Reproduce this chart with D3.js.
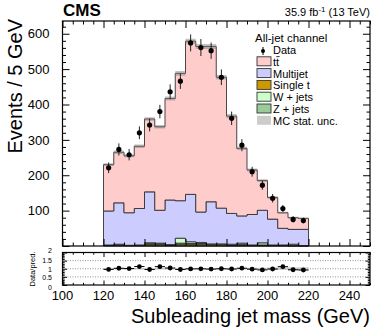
<!DOCTYPE html>
<html lang="en">
<head>
<meta charset="UTF-8">
<title>Subleading jet mass</title>
<script src="https://d3js.org/d3.v7.min.js"></script>
<style>
  body { margin: 0; background: #fff; }
  svg { display: block; font-family: "Liberation Sans", Arial, sans-serif; }
</style>
</head>
<body>
<div id="chart"></div>
<script>
// bin low edges (GeV), 5 GeV wide
const binLow = [120,125,130,135,140,145,150,155,160,165,170,175,180,185,190,195,200,205,210,215];
const binWidth = 5;

// observed events and their errors
const dataObs = [221,273,258,320,342,380,436,466,574,561,552,477,361,285,210,172,135,106,75,72];
const dataErr = [15,17,16,18,18,19,21,22,24,24,23,22,19,17,14,13,12,10,9,8];

// stacked predictions
const singleT  = [2,3,2,2,4,4,3,5,5,5,4,4,3,3,2,2,2,2,1,1];
const zJets    = [1,2,0,0,4,3,0,3,2,2,1,1,0,1,0,1,0,0,0,0];
const wJets    = [0,0,0,1,1,1,1,14,5,3,1,1,2,4,1,6,1,1,4,0];
const multijet = [96,117,92,103,144,93,126,106,134,86,119,101,87,77,86,92,73,47,42,46];
const ttbar    = [131,143,161,176,206,236,287,360,433,468,439,370,275,191,126,84,61,44,33,31];

// relative MC stat. uncertainty
const mcUnc = [0.05,0.05,0.05,0.05,0.04,0.04,0.04,0.04,0.035,0.035,0.035,0.04,0.045,0.05,0.055,0.06,0.07,0.08,0.09,0.1];

const xTicks = [100,120,140,160,180,200,220,240];
const yTicks = [100,200,300,400,500,600];
const ratioTicks = [0,0.5,1,1.5,2];

const W = 390, H = 329;
const L = 62.5, R = 370;
const mainTop = 21, mainBot = 246;
const ratTop = 252.5, ratBot = 285;

const svg = d3.select("#chart").append("svg")
  .attr("width", W).attr("height", H);

const x = d3.scaleLinear().domain([100, 250]).range([L, R]);
const y = d3.scaleLinear().domain([0, 636]).range([mainBot, mainTop]);
const yr = d3.scaleLinear().domain([0, 2]).range([ratBot, ratTop]);

// build stack
const keys = ["singleT", "zJets", "wJets", "multijet", "ttbar"];
const colors = { singleT: "#cc9900", zJets: "#99cc99", wJets: "#ccffcc", multijet: "#ccccff", ttbar: "#ffcccc" };
const rows = binLow.map((b, i) => ({
  lo: b, singleT: singleT[i], zJets: zJets[i], wJets: wJets[i], multijet: multijet[i], ttbar: ttbar[i]
}));
const stacked = d3.stack().keys(keys)(rows);
const total = rows.map(r => keys.reduce((s, k) => s + r[k], 0));

// step helper: repeat last bin at upper edge
function stepPts(vals0, vals1) {
  const pts = binLow.map((b, i) => ({ x: b, y0: vals0[i], y1: vals1[i] }));
  const n = binLow.length - 1;
  pts.push({ x: binLow[n] + binWidth, y0: vals0[n], y1: vals1[n] });
  return pts;
}

const area = d3.area().curve(d3.curveStepAfter)
  .x(d => x(d.x)).y0(d => y(d.y0)).y1(d => y(d.y1));

stacked.forEach(layer => {
  const pts = stepPts(layer.map(d => d[0]), layer.map(d => d[1]));
  svg.append("path")
    .attr("d", area(pts))
    .attr("fill", colors[layer.key])
    .attr("stroke", "#333")
    .attr("stroke-width", 0.9);
});

// MC stat band (thin, sits on the stack outline)
const band = stepPts(total.map((t, i) => t * (1 - mcUnc[i] * 0.35)), total.map((t, i) => t * (1 + mcUnc[i] * 0.35)));
svg.append("path").attr("d", area(band))
  .attr("fill", "#777").attr("opacity", 0.45);

// data points
const mid = binLow.map(b => b + binWidth / 2);
const pts = svg.append("g");
pts.selectAll("line").data(dataObs).join("line")
  .attr("x1", (d, i) => x(mid[i])).attr("x2", (d, i) => x(mid[i]))
  .attr("y1", (d, i) => y(d - dataErr[i])).attr("y2", (d, i) => y(d + dataErr[i]))
  .attr("stroke", "#222").attr("stroke-width", 1);
pts.selectAll("circle").data(dataObs).join("circle")
  .attr("cx", (d, i) => x(mid[i])).attr("cy", d => y(d))
  .attr("r", 2.6).attr("fill", "#000");

// frames
function frame(top, bot) {
  svg.append("rect").attr("x", L).attr("y", top)
    .attr("width", R - L).attr("height", bot - top)
    .attr("fill", "none").attr("stroke", "#000").attr("stroke-width", 1.2);
}
frame(mainTop, mainBot);
frame(ratTop, ratBot);

const minorX = d3.range(100, 251, 5).filter(v => v % 20 !== 0);

function xAxes(top, bot, big, small) {
  svg.append("g").attr("transform", `translate(0,${bot})`)
    .call(d3.axisBottom(x).tickValues(xTicks).tickSize(-big).tickFormat(""))
    .call(g => g.select(".domain").remove());
  svg.append("g").attr("transform", `translate(0,${bot})`)
    .call(d3.axisBottom(x).tickValues(minorX).tickSize(-small).tickFormat(""))
    .call(g => g.select(".domain").remove());
  svg.append("g").attr("transform", `translate(0,${top})`)
    .call(d3.axisTop(x).tickValues(xTicks).tickSize(-big).tickFormat(""))
    .call(g => g.select(".domain").remove());
  svg.append("g").attr("transform", `translate(0,${top})`)
    .call(d3.axisTop(x).tickValues(minorX).tickSize(-small).tickFormat(""))
    .call(g => g.select(".domain").remove());
}
xAxes(mainTop, mainBot, 7, 3.5);
xAxes(ratTop, ratBot, 4.5, 2.2);

function yAxes(scale, major, minor, big, small, fmt, fs, dyFn) {
  svg.append("g").attr("transform", `translate(${L},0)`)
    .call(d3.axisLeft(scale).tickValues(major).tickSize(-big).tickPadding(big + 6).tickFormat(fmt))
    .call(g => g.select(".domain").remove())
    .call(g => g.selectAll("text").attr("font-size", fs).attr("fill", "#000")
      .attr("font-family", "Liberation Sans, Arial, sans-serif")
      .attr("dy", dyFn || "0.32em"));
  svg.append("g").attr("transform", `translate(${L},0)`)
    .call(d3.axisLeft(scale).tickValues(minor).tickSize(-small).tickFormat(""))
    .call(g => g.select(".domain").remove());
  svg.append("g").attr("transform", `translate(${R},0)`)
    .call(d3.axisRight(scale).tickValues(major).tickSize(-big).tickFormat(""))
    .call(g => g.select(".domain").remove());
  svg.append("g").attr("transform", `translate(${R},0)`)
    .call(d3.axisRight(scale).tickValues(minor).tickSize(-small).tickFormat(""))
    .call(g => g.select(".domain").remove());
}
yAxes(y, [0].concat(yTicks), d3.range(20, 636, 20).filter(v => v % 100 !== 0), 7, 3.5,
  d => d === 0 ? "" : d, "13px");
// ratio labels: top one nudged up, bottom one nudged down as in ROOT
yAxes(yr, ratioTicks, d3.range(0.1, 2, 0.1).filter(v => Math.abs(v * 2 - Math.round(v * 2)) > 0.01), 4.5, 2.2,
  d => d, "7px", d => d === 2 ? "-0.05em" : d === 0 ? "0.7em" : "0.32em");

// ratio panel
[0.5, 1, 1.5].forEach(v => {
  svg.append("line").attr("x1", L).attr("x2", R).attr("y1", yr(v)).attr("y2", yr(v))
    .attr("stroke", "#777").attr("stroke-width", 0.8).attr("stroke-dasharray", "1,1.5");
});
const rBand = stepPts(mcUnc.map(u => 1 - u), mcUnc.map(u => 1 + u));
svg.append("path")
  .attr("d", d3.area().curve(d3.curveStepAfter).x(d => x(d.x)).y0(d => yr(d.y0)).y1(d => yr(d.y1))(rBand))
  .attr("fill", "#bbb").attr("opacity", 0.7);
const ratio = dataObs.map((d, i) => d / total[i]);
const rErr = dataErr.map((e, i) => e / total[i]);
const rg = svg.append("g");
rg.selectAll("line.h").data(ratio).join("line").attr("class", "h")
  .attr("x1", (d, i) => x(binLow[i])).attr("x2", (d, i) => x(binLow[i] + binWidth))
  .attr("y1", d => yr(d)).attr("y2", d => yr(d))
  .attr("stroke", "#000").attr("stroke-width", 1);
rg.selectAll("line.v").data(ratio).join("line").attr("class", "v")
  .attr("x1", (d, i) => x(mid[i])).attr("x2", (d, i) => x(mid[i]))
  .attr("y1", (d, i) => yr(d - rErr[i])).attr("y2", (d, i) => yr(d + rErr[i]))
  .attr("stroke", "#000").attr("stroke-width", 1);
rg.selectAll("circle").data(ratio).join("circle")
  .attr("cx", (d, i) => x(mid[i])).attr("cy", d => yr(d))
  .attr("r", 2.4).attr("fill", "#000");

// x tick labels under ratio
svg.append("g").selectAll("text").data(xTicks).join("text")
  .attr("x", d => x(d)).attr("y", 300)
  .attr("text-anchor", "middle").attr("font-size", "13px")
  .text(d => d);

// titles
svg.append("text").attr("x", 370).attr("y", 323).attr("text-anchor", "end")
  .attr("font-size", "20px").text("Subleading jet mass (GeV)");
svg.append("text").attr("transform", "translate(22,19) rotate(-90)")
  .attr("text-anchor", "end").attr("font-size", "20px").text("Events / 5 GeV");
svg.append("text").attr("transform", "translate(35,269) rotate(-90)")
  .attr("text-anchor", "middle").attr("font-size", "7.5px").text("Data/pred.");
svg.append("text").attr("x", 63).attr("y", 16)
  .attr("font-size", "17px").attr("font-weight", "bold").text("CMS");
const lumi = svg.append("text").attr("x", 370).attr("y", 16)
  .attr("text-anchor", "end").attr("font-size", "11px");
lumi.append("tspan").text("35.9 fb");
lumi.append("tspan").attr("dy", -4).attr("font-size", "8px").text("-1");
lumi.append("tspan").attr("dy", 4).text(" (13 TeV)");

// legend
const lg = svg.append("g").attr("font-size", "11px");
lg.append("text").attr("x", 255).attr("y", 42).attr("font-size", "11.5px").text("All-jet channel");
const legItems = [
  { label: "Data", type: "data" },
  { label: "tt", type: "box", color: colors.ttbar, bar: true },
  { label: "Multijet", type: "box", color: colors.multijet },
  { label: "Single t", type: "box", color: colors.singleT },
  { label: "W + jets", type: "box", color: colors.wJets },
  { label: "Z + jets", type: "box", color: colors.zJets },
  { label: "MC stat. unc.", type: "unc", color: "#cccccc" }
];
legItems.forEach((it, i) => {
  const yb = 54 + i * 11.8;
  if (it.type === "data") {
    lg.append("line").attr("x1", 263).attr("x2", 263).attr("y1", yb - 7).attr("y2", yb + 1)
      .attr("stroke", "#000");
    lg.append("circle").attr("cx", 263).attr("cy", yb - 3).attr("r", 2).attr("fill", "#000");
  } else {
    lg.append("rect").attr("x", 257).attr("y", yb - 9).attr("width", 14).attr("height", 9)
      .attr("fill", it.color)
      .attr("stroke", it.type === "box" ? "#333" : "none").attr("stroke-width", 0.9);
  }
  lg.append("text").attr("x", 273).attr("y", yb).text(it.label);
  if (it.bar) {
    // anti-top bar over the second t
    lg.append("line").attr("x1", 276.3).attr("x2", 279.6).attr("y1", yb - 9.2).attr("y2", yb - 9.2)
      .attr("stroke", "#000").attr("stroke-width", 0.8);
  }
});
</script>
</body>
</html>
